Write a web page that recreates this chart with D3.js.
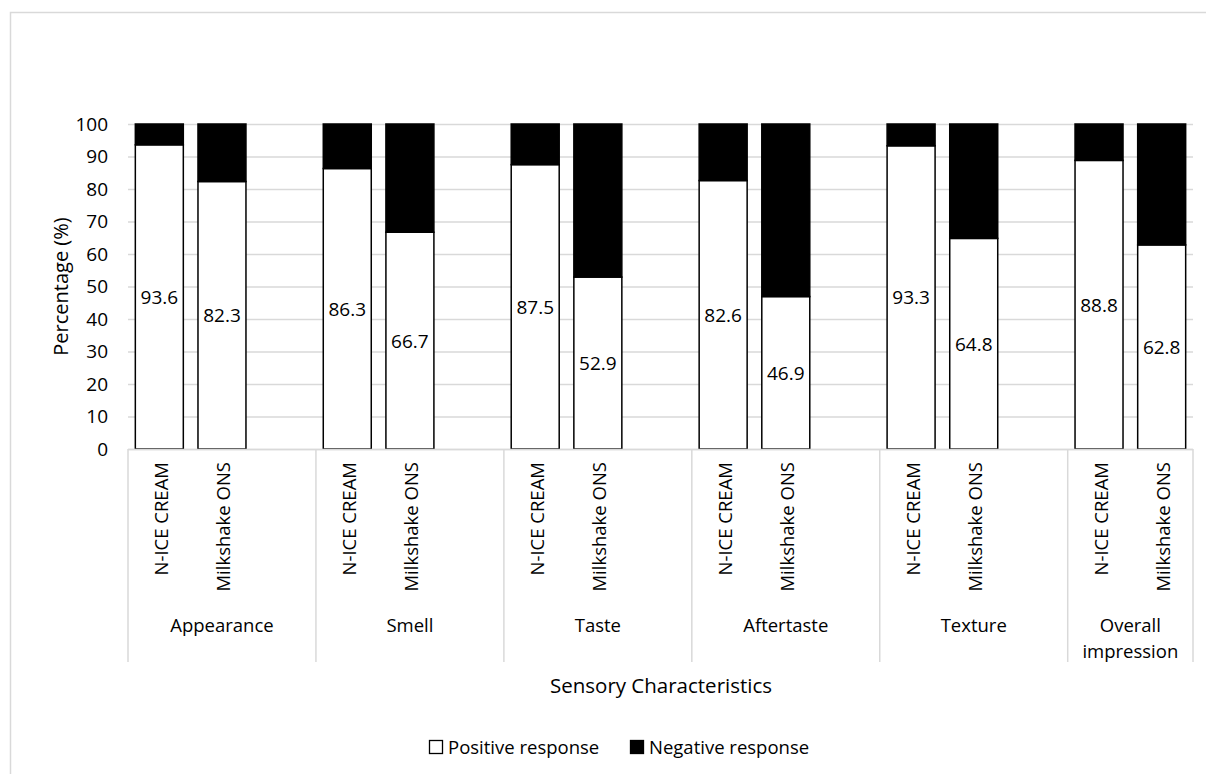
<!DOCTYPE html>
<html>
<head>
<meta charset="utf-8">
<script src="https://cdn.jsdelivr.net/npm/d3@7"></script>
<style>
  body { margin: 0; background: #fff; }
  svg text { font-family: "Open Sans", "Liberation Sans", sans-serif; fill: #000; }
</style>
</head>
<body>
<svg id="chart" width="1206" height="774"></svg>
<script>
// chart data
const categories = ["Appearance", "Smell", "Taste", "Aftertaste", "Texture", "Overall impression"];
const products = ["N-ICE CREAM", "Milkshake ONS"];
const positive = [93.6, 82.3, 86.3, 66.7, 87.5, 52.9, 82.6, 46.9, 93.3, 64.8, 88.8, 62.8];
const yTicks = [0, 10, 20, 30, 40, 50, 60, 70, 80, 90, 100];
const legendLabels = ["Positive response", "Negative response"];

const svg = d3.select("#chart");
const plotLeft = 128, plotRight = 1193, plotTop = 124, plotBottom = 449;

// outer chart frame
svg.append("rect").attr("x", 10.5).attr("y", 12.5).attr("width", 1300).attr("height", 900)
    .attr("fill", "none").attr("stroke", "#d9d9d9").attr("stroke-width", 1.5);

// slots: each group has its products + one blank slot (except the last group)
const slots = [];
const bars = [];
categories.forEach((c, i) => {
    products.forEach((p, j) => {
        const id = c + "|" + p;
        slots.push(id);
        bars.push({cat: c, prod: p, id: id, pos: positive[i * products.length + j]});
    });
    if (i < categories.length - 1) slots.push(c + "|blank");
});

const x = d3.scaleBand().domain(slots).range([plotLeft, plotRight]).paddingInner(0.234).paddingOuter(0.117);
const y = d3.scaleLinear().domain([0, 100]).range([plotBottom, plotTop]);

// gridlines
svg.append("g").selectAll("line").data(yTicks).join("line")
    .attr("x1", plotLeft).attr("x2", plotRight)
    .attr("y1", d => y(d) + 0.5).attr("y2", d => y(d) + 0.5)
    .attr("stroke", "#d9d9d9").attr("stroke-width", 1.3);

// y axis labels
const yAxis = svg.append("g").attr("transform", `translate(${plotLeft - 14},0)`)
    .call(d3.axisLeft(y).tickValues(yTicks).tickSize(0).tickPadding(6));
yAxis.select(".domain").remove();
yAxis.selectAll("text").style("font-size", "19px").style("font-family", "Open Sans, sans-serif");

// bars
const barG = svg.append("g");
barG.selectAll("rect.pos").data(bars).join("rect").attr("class", "pos")
    .attr("x", d => x(d.id)).attr("width", x.bandwidth())
    .attr("y", d => y(d.pos)).attr("height", d => y(0) - y(d.pos))
    .attr("fill", "#fff").attr("stroke", "#000").attr("stroke-width", 1.5);
barG.selectAll("rect.neg").data(bars).join("rect").attr("class", "neg")
    .attr("x", d => x(d.id)).attr("width", x.bandwidth())
    .attr("y", y(100)).attr("height", d => y(d.pos) - y(100))
    .attr("fill", "#000").attr("stroke", "#000").attr("stroke-width", 1.5);

// value labels
barG.selectAll("text.val").data(bars).join("text").attr("class", "val")
    .attr("x", d => x(d.id) + x.bandwidth() / 2)
    .attr("y", d => (y(0) + y(d.pos)) / 2)
    .attr("text-anchor", "middle").attr("dominant-baseline", "central")
    .style("font-size", "19px")
    .text(d => d.pos.toFixed(1));

// category axis: group boundaries
const axisBottom = 662;
const groupBounds = categories.map((c, i) => {
    const first = x(c + "|" + products[0]) - x.step() * x.paddingOuter();
    const lastId = i < categories.length - 1 ? c + "|blank" : c + "|" + products[products.length - 1];
    const last = x(lastId) + x.bandwidth() + x.step() * x.paddingOuter();
    return {cat: c, x0: first, x1: last};
});
svg.append("line").attr("x1", plotLeft).attr("x2", plotRight).attr("y1", plotBottom + 0.5).attr("y2", plotBottom + 0.5)
    .attr("stroke", "#d9d9d9").attr("stroke-width", 1.5);
const edges = [plotLeft].concat(groupBounds.map(g => g.x1));
svg.append("g").selectAll("line").data(edges).join("line")
    .attr("x1", d => d).attr("x2", d => d).attr("y1", plotBottom).attr("y2", axisBottom)
    .attr("stroke", "#d9d9d9").attr("stroke-width", 1.5);

// product labels (rotated)
svg.append("g").selectAll("text").data(bars).join("text")
    .attr("transform", d => `translate(${x(d.id) + x.bandwidth() / 2 + 1},${plotBottom + 13}) rotate(-90)`)
    .attr("text-anchor", "end").attr("dominant-baseline", "central")
    .style("font-size", "18.5px")
    .text(d => d.prod);

// group labels
const groupLabel = svg.append("g").selectAll("text").data(groupBounds).join("text")
    .attr("x", d => (d.x0 + d.x1) / 2).attr("y", 632)
    .attr("text-anchor", "middle").style("font-size", "18.5px");
groupLabel.each(function(d) {
    const words = d.cat === "Overall impression" ? ["Overall", "impression"] : [d.cat];
    d3.select(this).selectAll("tspan").data(words).join("tspan")
        .attr("x", (d.x0 + d.x1) / 2).attr("dy", (w, k) => k === 0 ? 0 : 26)
        .text(w => w);
});

// axis titles
svg.append("text").attr("transform", `translate(68,${(plotTop + plotBottom) / 2}) rotate(-90)`)
    .attr("text-anchor", "middle").style("font-size", "20px").text("Percentage (%)");
svg.append("text").attr("x", 661).attr("y", 693)
    .attr("text-anchor", "middle").style("font-size", "20.5px").text("Sensory Characteristics");

// legend
const legend = svg.append("g");
const legendItems = [{label: legendLabels[0], fill: "#fff", x: 429}, {label: legendLabels[1], fill: "#000", x: 630}];
legendItems.forEach(item => {
    legend.append("rect").attr("x", item.x + 0.5).attr("y", 740.5).attr("width", 13).attr("height", 13)
        .attr("fill", item.fill).attr("stroke", "#000").attr("stroke-width", 1.3);
    legend.append("text").attr("x", item.x + 19).attr("y", 753.5)
        .style("font-size", "18.5px").text(item.label);
});
</script>
</body>
</html>
